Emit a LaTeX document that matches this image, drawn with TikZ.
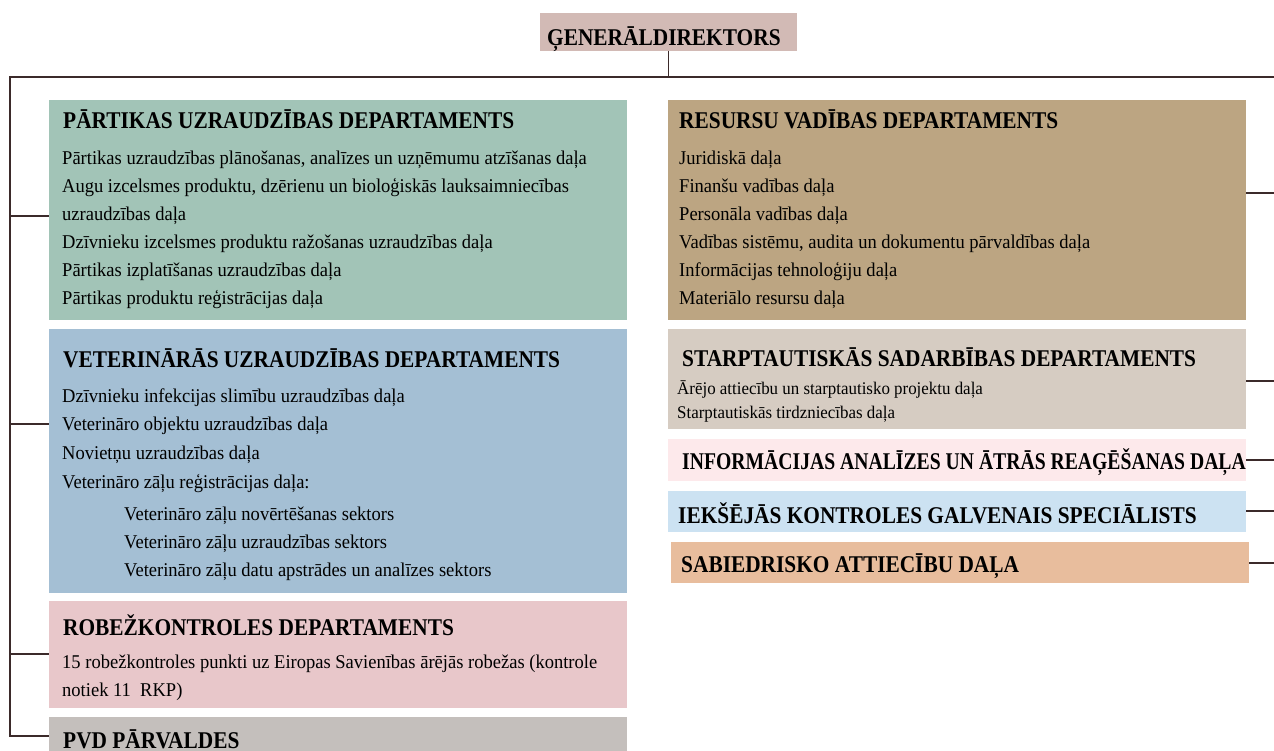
\documentclass[tikz,border=0pt]{standalone}
\usepackage{fontspec}
\setmainfont{Liberation Serif}
\newfontfamily\hdfont{Liberation Serif}[FakeStretch=0.89]
\newfontfamily\hdnfont{Liberation Serif}[FakeStretch=0.82]
\newfontfamily\bdfont{Liberation Serif}[FakeStretch=0.95]
\definecolor{cgen}{HTML}{D2BAB5}
\definecolor{cgreen}{HTML}{A2C4B7}
\definecolor{cblue}{HTML}{A4BFD4}
\definecolor{cpink}{HTML}{E8C7CA}
\definecolor{cgray}{HTML}{C4BFBC}
\definecolor{ctan}{HTML}{BCA582}
\definecolor{cbeige}{HTML}{D6CCC2}
\definecolor{clpink}{HTML}{FDE9EB}
\definecolor{clblue}{HTML}{CCE2F2}
\definecolor{cpeach}{HTML}{E8BD9D}
\definecolor{cline}{HTML}{3B2A2A}
\begin{document}
\begin{tikzpicture}[x=1pt,y=-1pt,
  box/.style={draw=none, inner sep=0pt, outer sep=0pt, anchor=north west},
  hd/.style={anchor=base west, inner sep=0pt, font=\hdfont\bfseries\fontsize{24}{24}\selectfont},
  hdn/.style={anchor=base west, inner sep=0pt, font=\hdnfont\bfseries\fontsize{24}{24}\selectfont},
  bd/.style={anchor=base west, inner sep=0pt, font=\bdfont\fontsize{19.5}{19.5}\selectfont},
  sbd/.style={anchor=base west, inner sep=0pt, font=\bdfont\fontsize{17.8}{17.8}\selectfont},
  conn/.style={draw=cline, line width=1.6pt}]
\useasboundingbox (0,0) rectangle (1274,751);
% boxes
\node[box, fill=cgen, minimum width=257pt, minimum height=38pt] (gen) at (540,13) {};
\node[box, fill=cgreen, minimum width=578pt, minimum height=220pt] (pu) at (49,100) {};
\node[box, fill=cblue, minimum width=578pt, minimum height=264pt] (vu) at (49,329) {};
\node[box, fill=cpink, minimum width=578pt, minimum height=107pt] (rk) at (49,601) {};
\node[box, fill=cgray, minimum width=578pt, minimum height=40pt] (pvd) at (49,717) {};
\node[box, fill=ctan, minimum width=578pt, minimum height=220pt] (rv) at (668,100) {};
\node[box, fill=cbeige, minimum width=578pt, minimum height=100pt] (ss) at (668,329) {};
\node[box, fill=clpink, minimum width=578pt, minimum height=42pt] (ia) at (668,439) {};
\node[box, fill=clblue, minimum width=578pt, minimum height=41pt] (ik) at (668,491) {};
\node[box, fill=cpeach, minimum width=578pt, minimum height=41pt] (sa) at (671,542) {};
% texts
\node[hd] (tgen) at (547,46) {ĢENERĀLDIREKTORS};
\node[hd] (tpu) at (63,129) {PĀRTIKAS UZRAUDZĪBAS DEPARTAMENTS};
\node[bd] (pu1) at (62,165) {Pārtikas uzraudzības plānošanas, analīzes un uzņēmumu atzīšanas daļa};
\node[bd] (pu2) at (62,193) {Augu izcelsmes produktu, dzērienu un bioloģiskās lauksaimniecības};
\node[bd] (pu3) at (62,221) {uzraudzības daļa};
\node[bd] (pu4) at (62,249) {Dzīvnieku izcelsmes produktu ražošanas uzraudzības daļa};
\node[bd] (pu5) at (62,277) {Pārtikas izplatīšanas uzraudzības daļa};
\node[bd] (pu6) at (62,305) {Pārtikas produktu reģistrācijas daļa};
\node[hd] (tvu) at (63,367) {VETERINĀRĀS UZRAUDZĪBAS DEPARTAMENTS};
\node[bd] (vu1) at (62,402) {Dzīvnieku infekcijas slimību uzraudzības daļa};
\node[bd] (vu2) at (62,430) {Veterināro objektu uzraudzības daļa};
\node[bd] (vu3) at (62,459) {Novietņu uzraudzības daļa};
\node[bd] (vu4) at (62,488) {Veterināro zāļu reģistrācijas daļa:};
\node[bd] (vu5) at (124,520) {Veterināro zāļu novērtēšanas sektors};
\node[bd] (vu6) at (124,548) {Veterināro zāļu uzraudzības sektors};
\node[bd] (vu7) at (124,576) {Veterināro zāļu datu apstrādes un analīzes sektors};
\node[hd] (trk) at (63,635) {ROBEŽKONTROLES DEPARTAMENTS};
\node[bd] (rk1) at (62,668) {15 robežkontroles punkti uz Eiropas Savienības ārējās robežas (kontrole};
\node[bd] (rk2) at (62,696) {notiek 11\ \ RKP)};
\node[hd] (tpvd) at (63,748) {PVD PĀRVALDES};
\node[hd] (trv) at (679,129) {RESURSU VADĪBAS DEPARTAMENTS};
\node[bd] (rv1) at (679,165) {Juridiskā daļa};
\node[bd] (rv2) at (679,193) {Finanšu vadības daļa};
\node[bd] (rv3) at (679,221) {Personāla vadības daļa};
\node[bd] (rv4) at (679,249) {Vadības sistēmu, audita un dokumentu pārvaldības daļa};
\node[bd] (rv5) at (679,277) {Informācijas tehnoloģiju daļa};
\node[bd] (rv6) at (679,305) {Materiālo resursu daļa};
\node[hd] (tss) at (682,366) {STARPTAUTISKĀS SADARBĪBAS DEPARTAMENTS};
\node[sbd] (ss1) at (677,394) {Ārējo attiecību un starptautisko projektu daļa};
\node[sbd] (ss2) at (677,418) {Starptautiskās tirdzniecības daļa};
\node[hdn] (tia) at (682,469) {INFORMĀCIJAS ANALĪZES UN ĀTRĀS REAĢĒŠANAS DAĻA};
\node[hd] (tik) at (678,523) {IEKŠĒJĀS KONTROLES GALVENAIS SPECIĀLISTS};
\node[hd] (tsa) at (681,572) {SABIEDRISKO ATTIECĪBU DAĻA};
% connectors
\coordinate (bl) at (10,77);
\coordinate (br) at (1274,77);
\coordinate (lb) at (10,736);
\coordinate (l1) at (10,216);
\coordinate (l2) at (10,424);
\coordinate (l3) at (10,654);
\coordinate (r1) at (1274,193);
\coordinate (r2) at (1274,381);
\coordinate (r3) at (1274,460);
\coordinate (r4) at (1274,511);
\coordinate (r5) at (1274,563);
\draw[conn] (gen.south) -- (gen.south |- bl);
\draw[conn] (br) -- (bl) -- (lb) -- (lb -| pvd.west);
\draw[conn] (l1) -- (l1 -| pu.west);
\draw[conn] (l2) -- (l2 -| vu.west);
\draw[conn] (l3) -- (l3 -| rk.west);
\draw[conn] (r1) -- (r1 -| rv.east);
\draw[conn] (r2) -- (r2 -| ss.east);
\draw[conn] (r3) -- (r3 -| ia.east);
\draw[conn] (r4) -- (r4 -| ik.east);
\draw[conn] (r5) -- (r5 -| sa.east);
\end{tikzpicture}
\end{document}
